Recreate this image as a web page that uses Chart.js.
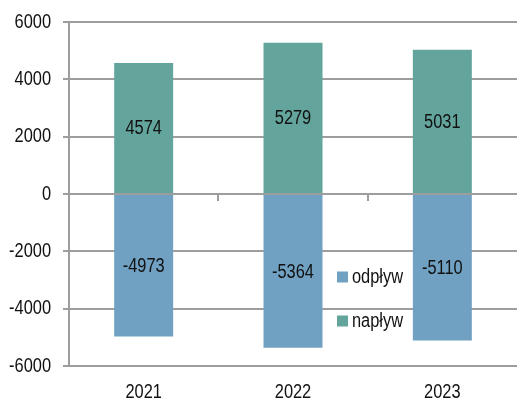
<!DOCTYPE html>
<html>
<head>
<meta charset="utf-8">
<script src="https://cdn.jsdelivr.net/npm/chart.js@4/dist/chart.umd.min.js"></script>
<style>
    body { margin: 0; background: #fff; }
    #canvChart { display: block; }
</style>
</head>
<body>
<canvas id="canvChart" width="518" height="401"></canvas>
<script>
var years = ['2021', '2022', '2023'];
var odplyw = [-4973, -5364, -5110];
var naplyw = [4574, 5279, 5031];
var seriesNames = ['odpływ', 'napływ'];
var seriesColors = ['#70A1C2', '#63A49D'];
var yTicks = [-6000, -4000, -2000, 0, 2000, 4000, 6000];

var _font = "20px 'Liberation Sans', Arial, sans-serif";
var _narrow = 0.82;   // the original uses a condensed face
var _gridColor = '#9d9d9d';
var _textColor = '#111';

// condensed text: squeeze horizontally around the anchor point
function drawNarrowText(ctx, text, x, y, align) {
    ctx.save();
    ctx.font = _font;
    ctx.fillStyle = _textColor;
    ctx.textAlign = align;
    ctx.textBaseline = 'middle';
    ctx.translate(x, y);
    ctx.scale(_narrow, 1);
    ctx.fillText(text, 0, 0);
    ctx.restore();
}

// axis labels drawn by hand so they can be condensed
var axisLabelsPlugin = {
    id: 'axisLabels',
    afterDraw: function (chart) {
        var ctx = chart.ctx;
        var xs = chart.scales.x;
        var ys = chart.scales.y;
        yTicks.forEach(function (v) {
            drawNarrowText(ctx, String(v), ys.right - 18, ys.getPixelForValue(v), 'right');
        });
        years.forEach(function (lbl, i) {
            drawNarrowText(ctx, lbl, xs.getPixelForValue(i), chart.chartArea.bottom + 26, 'center');
        });
    }
};

// value in the middle of every bar
var barLabelsPlugin = {
    id: 'barLabels',
    afterDatasetsDraw: function (chart) {
        var ctx = chart.ctx;
        chart.data.datasets.forEach(function (ds, i) {
            var meta = chart.getDatasetMeta(i);
            meta.data.forEach(function (bar, j) {
                drawNarrowText(ctx, String(ds.data[j]), bar.x, (bar.y + bar.base) / 2 + 1, 'center');
            });
        });
    }
};

// small category ticks on the zero line
var zeroTicksPlugin = {
    id: 'zeroTicks',
    afterDatasetsDraw: function (chart) {
        var ctx = chart.ctx;
        var xs = chart.scales.x;
        var y0 = chart.scales.y.getPixelForValue(0);
        var half = (xs.getPixelForValue(1) - xs.getPixelForValue(0)) / 2;
        ctx.save();
        ctx.strokeStyle = _gridColor;
        ctx.lineWidth = 2;
        for (var i = 0; i < years.length - 1; i++) {
            var x = Math.round(xs.getPixelForValue(i) + half);
            ctx.beginPath();
            ctx.moveTo(x, y0);
            ctx.lineTo(x, y0 + 7);
            ctx.stroke();
        }
        ctx.restore();
    }
};

// legend inside the plot area
var innerLegendPlugin = {
    id: 'innerLegend',
    afterDraw: function (chart) {
        var ctx = chart.ctx;
        var area = chart.chartArea;
        var x = area.left + 268;
        var ys = [277, 321];
        for (var i = 0; i < seriesNames.length; i++) {
            ctx.fillStyle = seriesColors[i];
            ctx.fillRect(x, ys[i] - 5.5, 11, 11);
            drawNarrowText(ctx, seriesNames[i], x + 15, ys[i], 'left');
        }
    }
};

function buildChart() {
    var ctx = document.getElementById('canvChart').getContext('2d');

    var config = {
        labels: years,
        datasets: [{
                label: seriesNames[0],
                data: odplyw,
                backgroundColor: seriesColors[0],
                barPercentage: 0.395,
                categoryPercentage: 1
            }, {
                label: seriesNames[1],
                data: naplyw,
                backgroundColor: seriesColors[1],
                barPercentage: 0.395,
                categoryPercentage: 1
            }]
    };

    new Chart(ctx, {
        type: 'bar',
        data: config,
        options: {
            responsive: false,
            animation: false,
            layout: { padding: { top: 22, right: 1, left: 0, bottom: 0 } },
            plugins: {
                legend: { display: false },
                tooltip: { enabled: false }
            },
            scales: {
                x: {
                    stacked: true,
                    grid: { display: false },
                    border: { display: false },
                    ticks: { display: false },
                    afterFit: function (scale) { scale.height = 35; }
                },
                y: {
                    stacked: true,
                    min: yTicks[0],
                    max: yTicks[yTicks.length - 1],
                    afterBuildTicks: function (scale) {
                        scale.ticks = yTicks.map(function (v) { return { value: v }; });
                    },
                    grid: {
                        color: _gridColor,
                        lineWidth: 2,
                        tickLength: 6
                    },
                    border: { display: true, color: _gridColor, width: 2 },
                    ticks: { color: 'rgba(0,0,0,0)' },
                    afterFit: function (scale) { scale.width = 69; }
                }
            }
        },
        plugins: [barLabelsPlugin, zeroTicksPlugin, innerLegendPlugin, axisLabelsPlugin]
    });
}

buildChart();
</script>
</body>
</html>
